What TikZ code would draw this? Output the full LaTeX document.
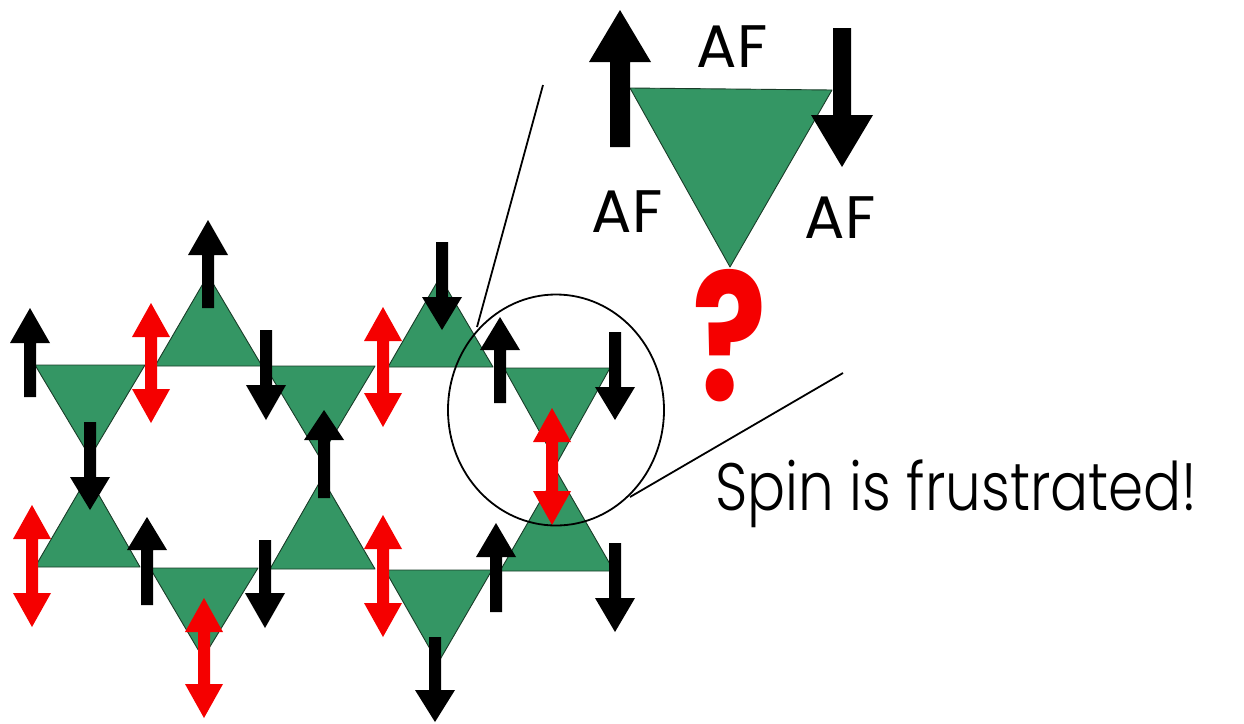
\documentclass[tikz,border=0pt]{standalone}
\usepackage{fontspec}
\setmainfont{Poppins}
\newfontfamily\lightfont{Poppins Light}
\usetikzlibrary{shapes.geometric}
\definecolor{kgreen}{RGB}{52,150,100}
\definecolor{kred}{RGB}{245,0,0}
\definecolor{kedge}{RGB}{25,60,40}
% #1 x, #2 tail y, #3 head-base y, #4 tip y, #5 half shaft, #6 half head
\newcommand\spinarr[6]{\fill[black] (#1-#5,#2) -- (#1-#5,#3) -- (#1-#6,#3) -- (#1,#4) -- (#1+#6,#3) -- (#1+#5,#3) -- (#1+#5,#2) -- cycle;}
\newcommand\bspin[4]{\spinarr{#1}{#2}{#3}{#4}{6}{20}}
% #1 x, #2 top tip y, #3 bottom tip y
\newcommand\rspin[3]{\fill[kred] (#1,#2) -- (#1+19,#2+34) -- (#1+6,#2+34) -- (#1+6,#3-34) -- (#1+19,#3-34) -- (#1,#3) -- (#1-19,#3-34) -- (#1-6,#3-34) -- (#1-6,#2+34) -- (#1-19,#2+34) -- cycle;}
\begin{document}
\begin{tikzpicture}[x=1pt,y=-1pt,
  tri/.style={fill=kgreen, draw=kedge, line width=0.9pt, line join=round},
  zoomline/.style={draw=black, line width=1.8pt},
  lab/.style={inner sep=0pt, anchor=base, font=\fontsize{60}{60}\selectfont}]
\useasboundingbox (0,0) rectangle (1244,723);
% kagome lattice, top row
\filldraw[tri] (35,365) -- (145,365) -- (90,457) -- cycle;
\filldraw[tri] (155,366) -- (262,366) -- (208,275) -- cycle;
\filldraw[tri] (265,366) -- (375,366) -- (320,458) -- cycle;
\filldraw[tri] (388,367) -- (493,367) -- (440,277) -- cycle;
\filldraw[tri] (504,368) -- (610,368) -- (557,463) -- cycle;
% bottom row
\filldraw[tri] (35,567) -- (140,567) -- (88,476) -- cycle;
\filldraw[tri] (150,568) -- (258,568) -- (203,658) -- cycle;
\filldraw[tri] (270,569) -- (375,569) -- (322,478) -- cycle;
\filldraw[tri] (385,570) -- (492,570) -- (438,663) -- cycle;
\filldraw[tri] (500,571) -- (614,571) -- (557,472) -- cycle;
% black spins
\bspin{30}{397}{343}{308}
\bspin{208}{308}{255}{220}
\bspin{266}{330}{385}{420}
\bspin{90}{422}{477}{510}
\bspin{324}{498}{440}{410}
\bspin{442}{242}{297}{330}
\bspin{500}{403}{350}{317}
\bspin{615}{332}{387}{420}
\bspin{147}{605}{550}{517}
\bspin{265}{540}{593}{628}
\bspin{496}{612}{557}{523}
\bspin{615}{543}{598}{632}
\bspin{435}{637}{690}{722}
% red frustrated spins
\rspin{151}{303}{423}
\rspin{383}{307}{427}
\rspin{552}{408}{525}
\rspin{32}{505}{627}
\rspin{204}{598}{718}
\rspin{383}{515}{637}
% magnifier circle and zoom lines
\node[ellipse, draw=black, line width=1.8pt, minimum width=216pt, minimum height=231pt, inner sep=0pt] (circ) at (556,410) {};
\coordinate (z1a) at (543,85);
\coordinate (z1b) at (477,327);
\coordinate (z2a) at (843,373);
\coordinate (z2b) at (630,497);
\draw[zoomline] (z1a) -- (z1b);
\draw[zoomline] (z2a) -- (z2b);
% inset triangle
\filldraw[tri] (630,88) -- (832,90) -- (730,267) -- cycle;
\spinarr{620}{147}{62}{10}{10}{31}
\spinarr{842}{28}{115}{167}{9}{31}
\node[lab] (afT) at (732,67) {AF};
\node[lab] (afL) at (627,232) {AF};
\node[lab] (afR) at (840,238) {AF};
\node[inner sep=0pt, anchor=base, text=kred, font=\bfseries\fontsize{177}{177}\selectfont] (qm) at (730,400) {\scalebox{0.78}[1]{?}};
\node[inner sep=0pt, anchor=base west, font=\lightfont\fontsize{67}{67}\selectfont] (spin) at (715,510) {\scalebox{0.842}[1]{Spin is frustrated!}};
\end{tikzpicture}
\end{document}
